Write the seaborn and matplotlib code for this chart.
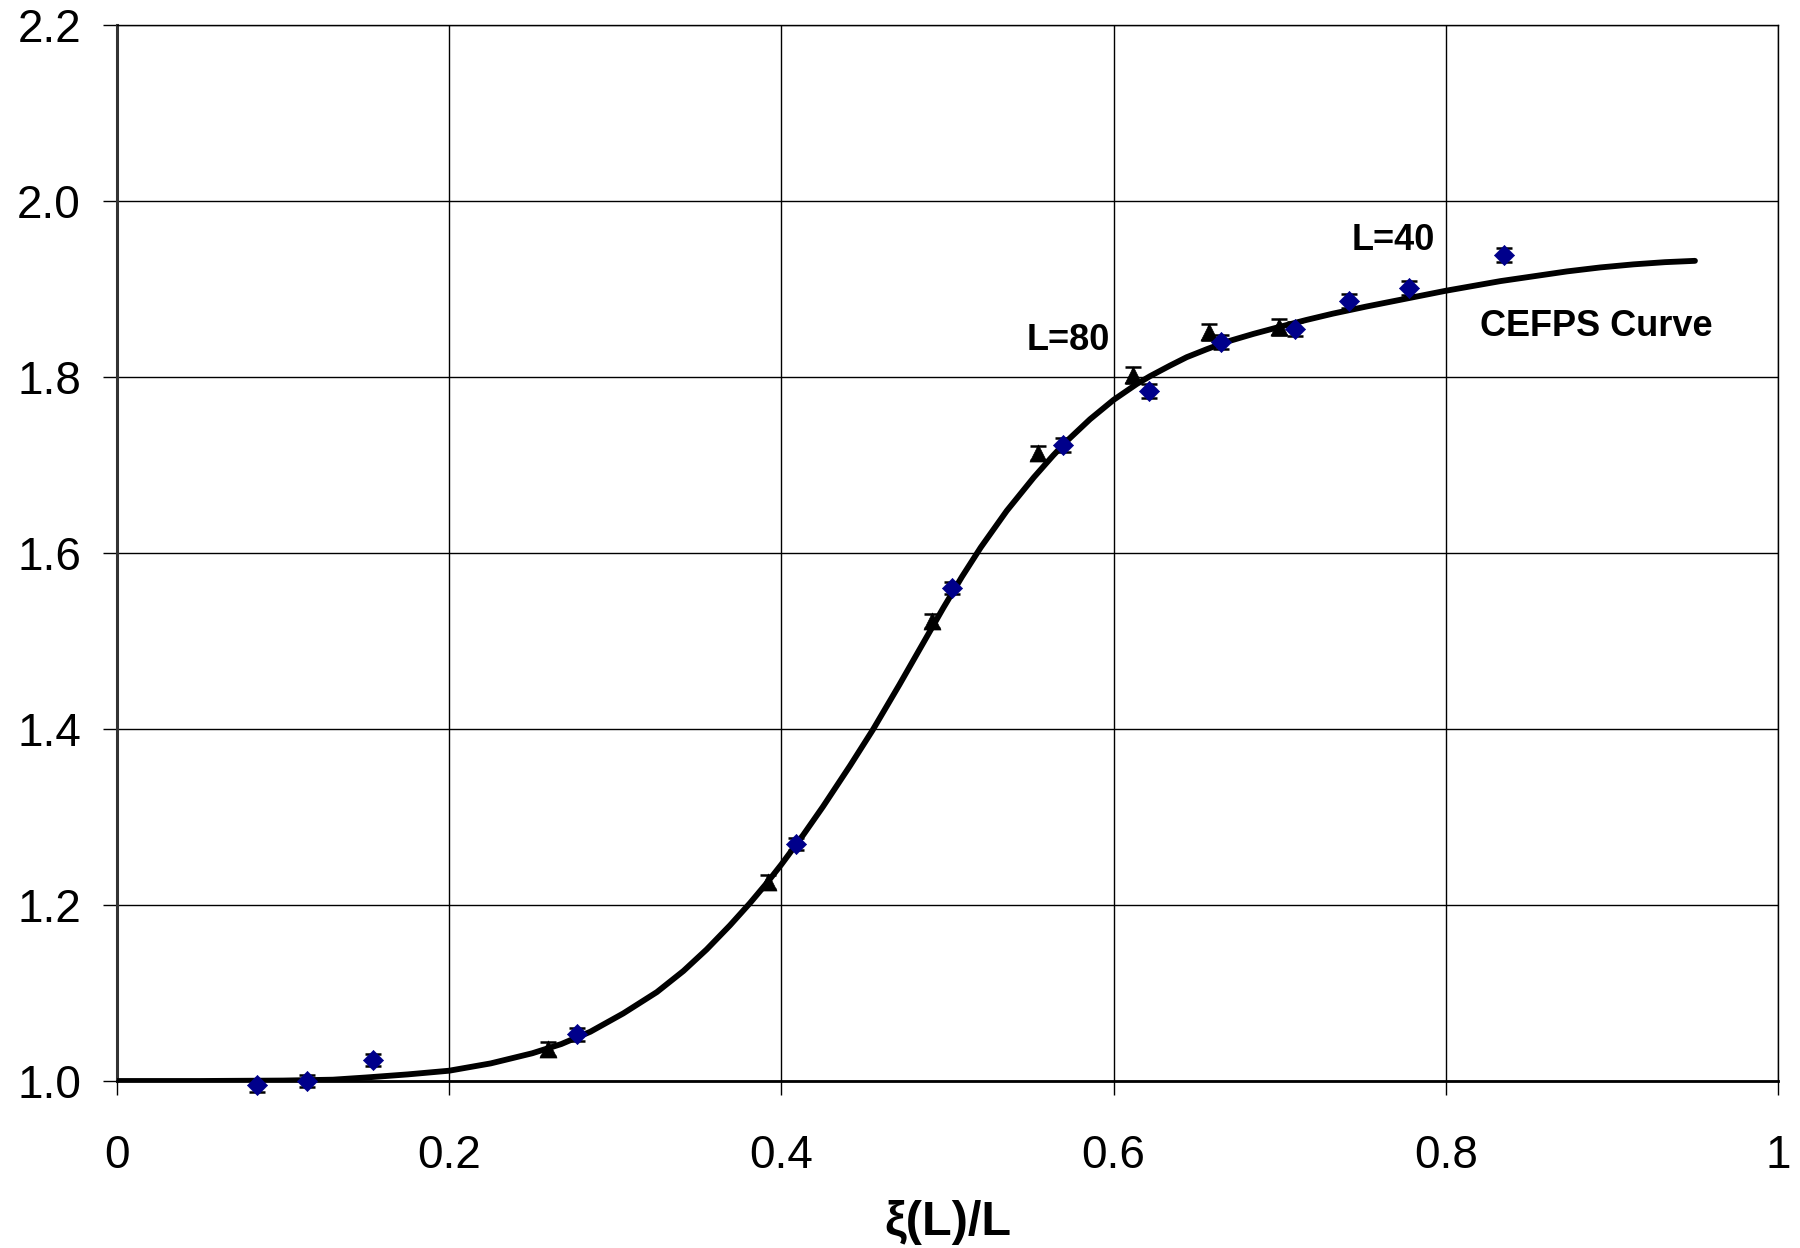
import matplotlib
matplotlib.use("Agg")
import matplotlib.pyplot as plt
import seaborn as sns
import pandas as pd

# CEFPS curve
curve_x = [0.0, 0.05, 0.10, 0.13, 0.15, 0.175, 0.20, 0.225, 0.25, 0.2675, 0.285, 0.3048,
           0.325, 0.341, 0.355, 0.369, 0.381, 0.3911, 0.400, 0.4132, 0.425, 0.4413, 0.455,
           0.471, 0.4835, 0.4975, 0.5086, 0.52, 0.5357, 0.552, 0.5637, 0.572, 0.5858,
           0.600, 0.6139, 0.622, 0.634, 0.644, 0.656, 0.668, 0.6842, 0.700, 0.716, 0.732,
           0.752, 0.772, 0.800, 0.833, 0.853, 0.873, 0.893, 0.913, 0.932, 0.95]
curve_y = [1.0, 1.0, 1.0005, 1.0015, 1.004, 1.0075, 1.0117, 1.020, 1.0315, 1.042, 1.056, 1.0768,
           1.101, 1.125, 1.1495, 1.1768, 1.202, 1.2247, 1.2461, 1.2798, 1.3117, 1.3582, 1.3989,
           1.4502, 1.4915, 1.5377, 1.5727, 1.6063, 1.648, 1.686, 1.711, 1.7275, 1.752,
           1.774, 1.792, 1.801, 1.813, 1.8225, 1.8315, 1.840, 1.849, 1.857, 1.8648, 1.872,
           1.880, 1.8875, 1.898, 1.909, 1.9145, 1.920, 1.9245, 1.928, 1.9305, 1.932]

# L=80 data (black triangles)
l80_x = [0.2593, 0.3921, 0.4905, 0.5545, 0.6118, 0.6576, 0.6998]
l80_y = [1.036, 1.2265, 1.523, 1.714, 1.802, 1.8515, 1.8565]
l80_err = [0.008, 0.008, 0.008, 0.008, 0.009, 0.009, 0.009]

# L=40 data (blue diamonds)
l40_x = [0.084, 0.1146, 0.1541, 0.2769, 0.4086, 0.5025, 0.5693, 0.6215, 0.6649,
         0.709, 0.7417, 0.7779, 0.835]
l40_y = [0.995, 1.000, 1.024, 1.053, 1.269, 1.5606, 1.7227, 1.7845, 1.8402,
         1.8545, 1.8867, 1.9015, 1.9386]
l40_err = [0.007, 0.007, 0.007, 0.007, 0.007, 0.007, 0.008, 0.008, 0.008,
           0.008, 0.008, 0.008, 0.008]

x_ticks = [0, 0.2, 0.4, 0.6, 0.8, 1]
x_tick_labels = ["0", "0.2", "0.4", "0.6", "0.8", "1"]
y_ticks = [1.0, 1.2, 1.4, 1.6, 1.8, 2.0, 2.2]
y_tick_labels = ["1.0", "1.2", "1.4", "1.6", "1.8", "2.0", "2.2"]

sns.set_theme(style="white")
plt.rcParams['font.family'] = ['Liberation Sans', 'DejaVu Sans']
plt.rcParams['text.color'] = 'black'
plt.rcParams['axes.labelcolor'] = 'black'

fig = plt.figure(figsize=(18, 12.48), dpi=100)
ax = fig.add_axes([117/1800, 1 - 1081/1248, (1778-117)/1800, (1081-25)/1248])

curve_df = pd.DataFrame({"x": curve_x, "y": curve_y})
sns.lineplot(data=curve_df, x="x", y="y", sort=False, color="black", linewidth=4.2,
             ax=ax, zorder=3)
for ln in ax.lines:
    ln.set_solid_joinstyle("round")
    ln.set_solid_capstyle("round")

navy = "#00008B"
ax.errorbar(l80_x, l80_y, yerr=l80_err, fmt="none", ecolor="black", elinewidth=1.6,
            capsize=6, capthick=1.8, zorder=4)
ax.errorbar(l40_x, l40_y, yerr=l40_err, fmt="none", ecolor="black", elinewidth=1.6,
            capsize=6, capthick=1.8, zorder=4, clip_on=False)

l80_df = pd.DataFrame({"x": l80_x, "y": l80_y})
l40_df = pd.DataFrame({"x": l40_x, "y": l40_y})
sns.scatterplot(data=l80_df, x="x", y="y", marker="^", s=150, color="black",
                edgecolor="black", linewidth=0.5, ax=ax, zorder=5)
sns.scatterplot(data=l40_df, x="x", y="y", marker="D", s=105, color=navy,
                edgecolor=navy, linewidth=0.5, ax=ax, zorder=5)
for coll in ax.collections:
    coll.set_clip_on(False)

ax.set_xlim(0, 1)
ax.set_ylim(1.0, 2.2)
ax.set_xticks(x_ticks)
ax.set_xticklabels(x_tick_labels)
ax.set_yticks(y_ticks)
ax.set_yticklabels(y_tick_labels)
ax.tick_params(axis="both", which="major", labelsize=33, length=10, width=1.0,
               color="black", direction="out", labelcolor="black")
ax.tick_params(axis="x", pad=28)
ax.tick_params(axis="y", pad=16)
ax.xaxis.set_ticks_position("bottom")
ax.yaxis.set_ticks_position("left")

ax.grid(True, color="black", linewidth=1.0)
ax.set_axisbelow(True)
for side in ["top", "right", "bottom"]:
    ax.spines[side].set_color("black")
    ax.spines[side].set_linewidth(1.0)
ax.spines["left"].set_color("#333333")
ax.spines["left"].set_linewidth(2.2)
ax.spines["bottom"].set_linewidth(2.0)

ax.set_xlabel("ξ(L)/L", fontsize=35, fontweight="bold", labelpad=16, color="black")
ax.set_ylabel("")

ax.text(0.7682, 1.9443, "L=40", fontsize=26, fontweight="bold", ha="center",
        va="baseline", zorder=6, color="black")
ax.text(0.5725, 1.8307, "L=80", fontsize=26, fontweight="bold", ha="center",
        va="baseline", zorder=6, color="black")
ax.text(0.8904, 1.847, "CEFPS Curve", fontsize=26, fontweight="bold", ha="center",
        va="baseline", zorder=6, color="black")

fig.savefig("out.png", dpi=100, facecolor="white")
